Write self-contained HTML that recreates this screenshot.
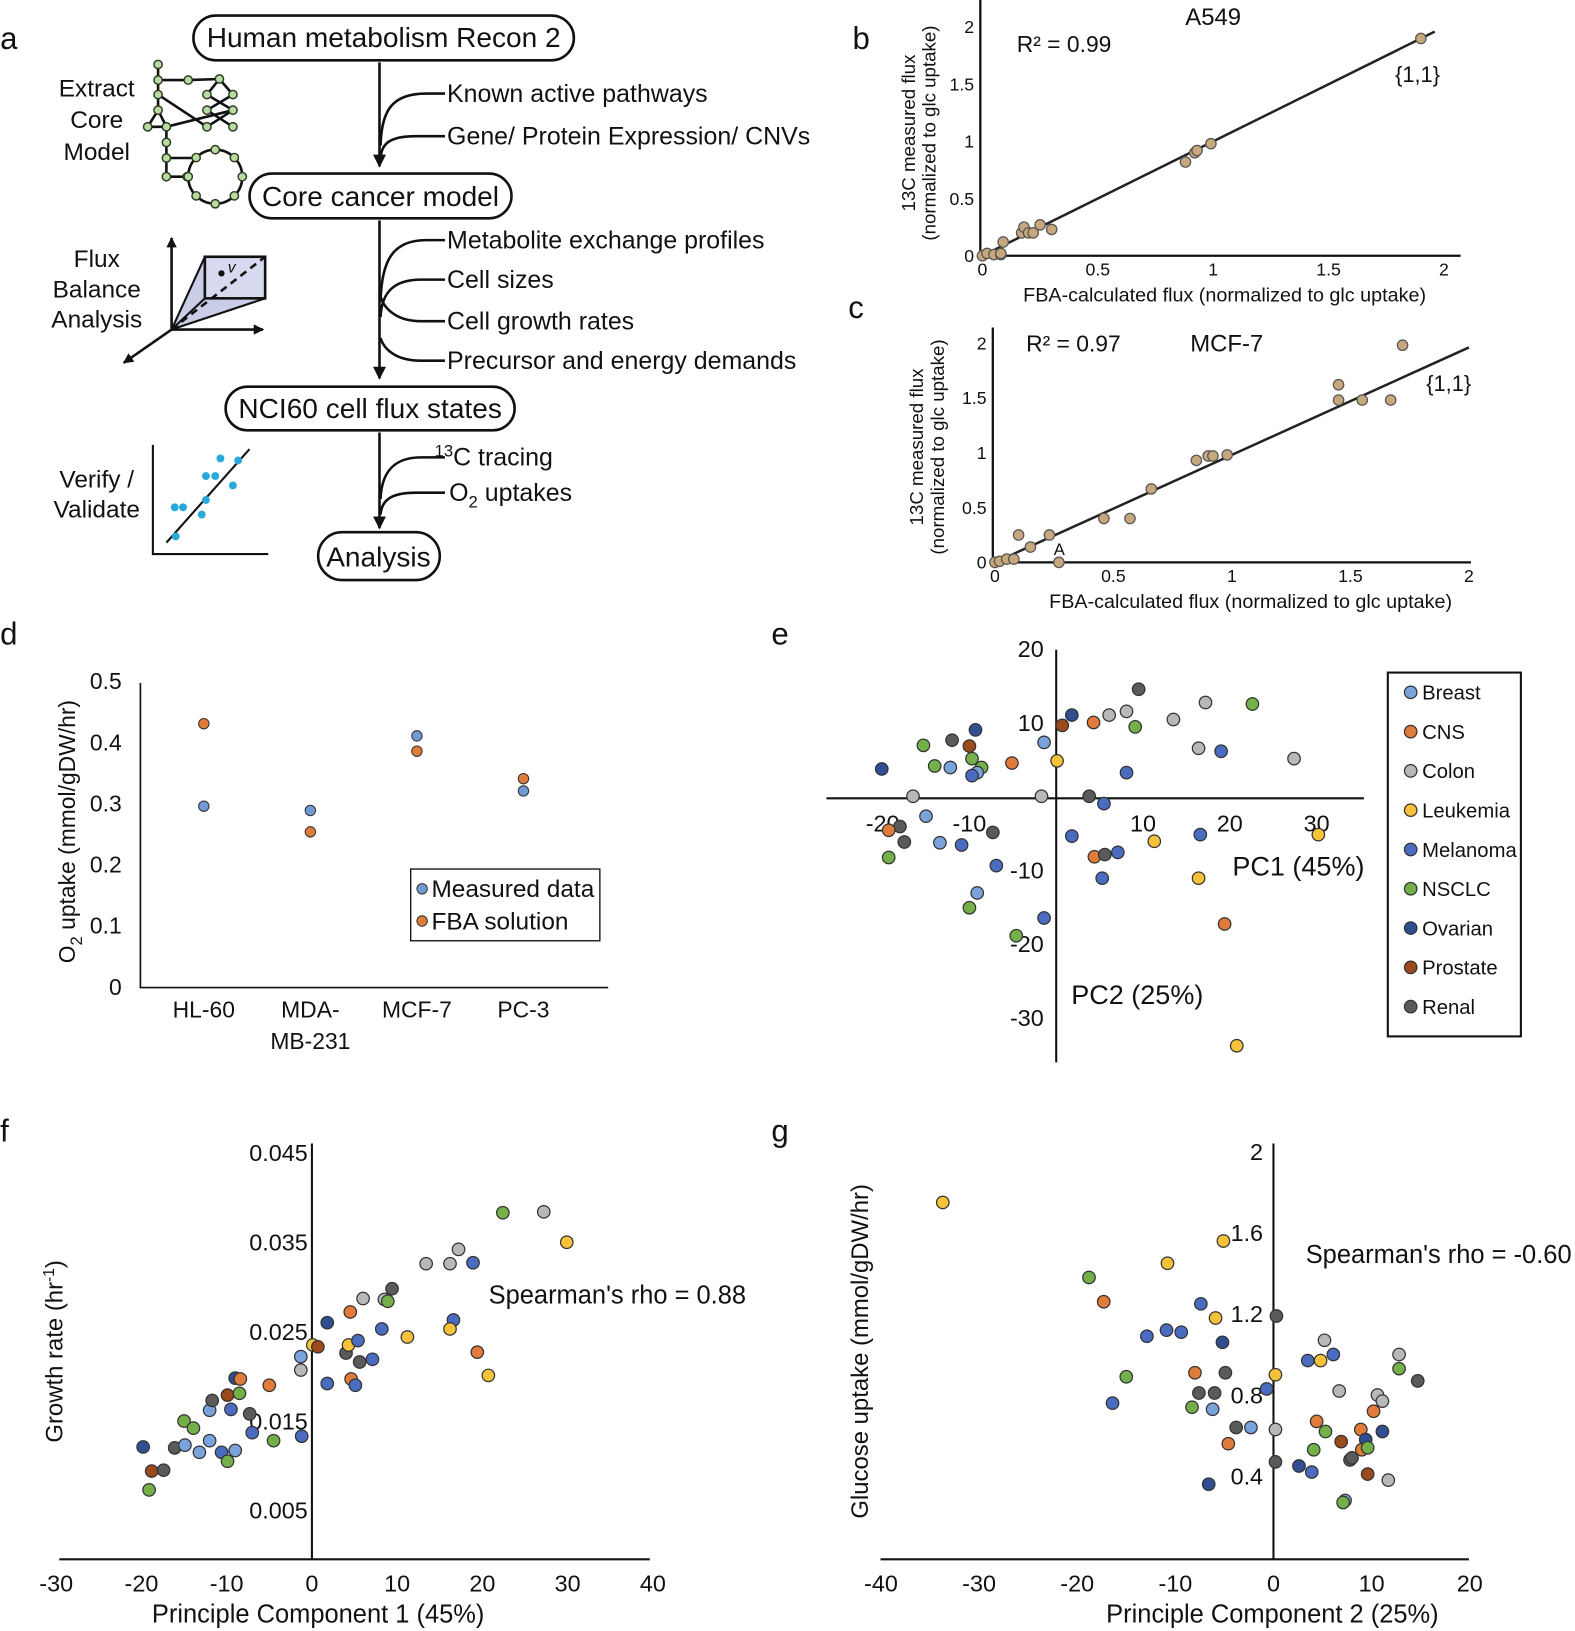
<!DOCTYPE html>
<html><head><meta charset="utf-8">
<style>
html,body{margin:0;padding:0;background:#fff;}
svg{display:block;font-family:"Liberation Sans",Arial,sans-serif;}
</style></head>
<body>
<svg id="fig" width="1575" height="1631" viewBox="0 0 1515 1569" xmlns="http://www.w3.org/2000/svg">
<defs>
<marker id="ah" viewBox="0 0 10 10" refX="9" refY="5" markerWidth="5" markerHeight="5" orient="auto"><path d="M0,0 L10,5 L0,10 z" fill="#111"/></marker>
<marker id="ah2" viewBox="0 0 10 10" refX="9" refY="5" markerWidth="4" markerHeight="4" orient="auto"><path d="M0,0 L10,5 L0,10 z" fill="#111"/></marker>
</defs>

<g font-size="30" fill="#111">
<text x="0" y="47">a</text>
<text x="820" y="47">b</text>
<text x="816" y="306">c</text>
<text x="0" y="620">d</text>
<text x="742" y="620">e</text>
<text x="0" y="1098">f</text>
<text x="742" y="1098">g</text>
</g>

<g id="panelA" fill="#111" stroke="none">
<rect x="186" y="15" width="366" height="43" rx="21.5" fill="#fff" stroke="#111" stroke-width="2.5"/>
<text x="369" y="45" font-size="27" text-anchor="middle">Human metabolism Recon 2</text>
<rect x="240" y="167" width="252" height="43" rx="21.5" fill="#fff" stroke="#111" stroke-width="2.5"/>
<text x="366" y="198" font-size="27" text-anchor="middle">Core cancer model</text>
<rect x="217" y="372" width="278" height="42" rx="21" fill="#fff" stroke="#111" stroke-width="2.5"/>
<text x="356" y="402" font-size="27" text-anchor="middle">NCI60 cell flux states</text>
<rect x="306" y="512" width="117" height="46" rx="23" fill="#fff" stroke="#111" stroke-width="2.5"/>
<text x="364" y="545" font-size="27" text-anchor="middle">Analysis</text>

<g stroke="#111" stroke-width="2.5" fill="none">
<line x1="365" y1="60" x2="365" y2="160" marker-end="url(#ah)"/>
<path d="M428,90 L410,90 C378,90 367,105 366,140"/>
<path d="M428,131 L400,131 C375,131 367,138 366,152"/>
<line x1="365" y1="212" x2="365" y2="364" marker-end="url(#ah)"/>
<path d="M428,231 L410,231 C378,231 367,250 366,290"/>
<path d="M428,269 L405,269 C378,269 367,282 366,305"/>
<path d="M428,309 L405,309 C375,309 367,290 366,285"/>
<path d="M428,347 L405,347 C375,347 367,330 366,325"/>
<line x1="365" y1="416" x2="365" y2="508" marker-end="url(#ah)"/>
<path d="M428,440 L405,440 C378,440 367,455 366,480"/>
<path d="M428,474 L400,474 C375,474 367,482 366,495"/>
</g>
<g font-size="24">
<text x="430" y="98">Known active pathways</text>
<text x="430" y="139">Gene/ Protein Expression/ CNVs</text>
<text x="430" y="239">Metabolite exchange profiles</text>
<text x="430" y="277">Cell sizes</text>
<text x="430" y="317">Cell growth rates</text>
<text x="430" y="355">Precursor and energy demands</text>
<text x="418" y="448"><tspan font-size="16" dy="-9">13</tspan><tspan dy="9">C tracing</tspan></text>
<text x="432" y="482">O<tspan font-size="16" dy="6">2</tspan><tspan dy="-6"> uptakes</tspan></text>
</g>
<g font-size="23.5" text-anchor="middle">
<text x="93" y="93">Extract</text>
<text x="93" y="123">Core</text>
<text x="93" y="154">Model</text>
<text x="93" y="257">Flux</text>
<text x="93" y="286">Balance</text>
<text x="93" y="315">Analysis</text>
<text x="93" y="469">Verify /</text>
<text x="93" y="498">Validate</text>
</g>
<g id="network"></g>
<g>
<polygon points="165,317 197,247 255,247 255,287" fill="#c9cde8" stroke="#111" stroke-width="2"/>
<rect x="197" y="247" width="58" height="40" fill="#d6d9ef" stroke="#111" stroke-width="2.5"/>
<line x1="165" y1="317" x2="197" y2="287" stroke="#111" stroke-width="2"/>
<line x1="165" y1="317" x2="255" y2="247" stroke="#111" stroke-width="2.5" stroke-dasharray="7,5"/>
<circle cx="213" cy="263" r="3" fill="#111"/>
<text x="219" y="262" font-size="15" font-style="italic">v</text>
<line x1="165" y1="317" x2="165" y2="229" stroke="#111" stroke-width="2.5" marker-end="url(#ah2)"/>
<line x1="165" y1="317" x2="253" y2="317" stroke="#111" stroke-width="2.5" marker-end="url(#ah2)"/>
<line x1="165" y1="317" x2="119" y2="349" stroke="#111" stroke-width="2.5" marker-end="url(#ah2)"/>
</g>
<g>
<polyline points="147,428 147,533 258,533" fill="none" stroke="#111" stroke-width="2"/>
<line x1="160" y1="522" x2="240" y2="432" stroke="#111" stroke-width="2"/>
<g fill="#29a9d9">
<circle cx="212" cy="441" r="3.8"/><circle cx="229" cy="443" r="3.8"/><circle cx="198" cy="458" r="3.8"/><circle cx="207" cy="458" r="3.8"/>
<circle cx="224" cy="467" r="3.8"/><circle cx="198" cy="481" r="3.8"/><circle cx="168" cy="488" r="3.8"/><circle cx="176" cy="488" r="3.8"/>
<circle cx="194" cy="495" r="3.8"/><circle cx="169" cy="516" r="3.8"/>
</g>
</g>
</g>

<g id="charts"></g>
</svg>

<script>
const NS = 'http://www.w3.org/2000/svg';
function mk(tag, attrs, parent) {
  const e = document.createElementNS(NS, tag);
  for (const k in attrs) e.setAttribute(k, attrs[k]);
  parent.appendChild(e);
  return e;
}
function txt(parent, x, y, s, size, anchor) {
  const t = mk('text', {x: x, y: y, 'font-size': size, 'text-anchor': anchor || 'start', fill: '#111'}, parent);
  t.textContent = s;
  return t;
}

const netNodes = [[152,62],[152,77],[181,77],[211,76],[152,91],[199,91],[224,91],[152,106],[199,106],[224,106],[142,122],[160,122],[199,122],[224,122],[160,137],[160,152],[160,170],[180,170]];
const netEdges = [[0,1],[1,4],[4,7],[7,10],[7,11],[10,11],[1,2],[2,3],[3,5],[3,6],[5,9],[6,8],[8,13],[9,12],[4,12],[11,9],[11,14],[14,15],[15,16],[16,17]];
const net = document.getElementById('network');
const ringC = [207,170], ringR = 26;
mk('circle', {cx: ringC[0], cy: ringC[1], r: ringR, fill: 'none', stroke: '#111', 'stroke-width': 2.5}, net);
mk('line', {x1: 160, y1: 152, x2: 190, y2: 152, stroke: '#111', 'stroke-width': 2.5}, net);
netEdges.forEach(([a, b]) => {
  const l = mk('line', {x1: netNodes[a][0], y1: netNodes[a][1], x2: netNodes[b][0], y2: netNodes[b][1], stroke: '#111', 'stroke-width': 2.5}, net);
  
  
});
const ringNodes = [];
for (let i = 0; i < 8; i++) { const a = -Math.PI / 2 + i * Math.PI / 4; ringNodes.push([ringC[0] + ringR * Math.cos(a), ringC[1] + ringR * Math.sin(a)]); }
netNodes.concat(ringNodes).forEach(p => {
  const c = mk('circle', {cx: p[0], cy: p[1], r: 4, fill: '#b9dba0', stroke: '#2b3a22', 'stroke-width': 1.4}, net);
  
  
});

const charts = document.getElementById('charts');

const bFBA = [0, 0.02, 0.05, 0.08, 0.09, 0.08, 0.17, 0.18, 0.20, 0.22, 0.25, 0.30, 0.88, 0.92, 0.93, 0.99, 1.90];
const bMeas = [0, 0.02, 0.01, 0.01, 0.12, 0.02, 0.20, 0.25, 0.20, 0.20, 0.27, 0.23, 0.82, 0.90, 0.92, 0.98, 1.90];
const bTicks = [0, 0.5, 1, 1.5, 2];
const bFit = [0, 1.96];
const cFBA = [0, 0.02, 0.05, 0.08, 0.10, 0.15, 0.23, 0.27, 0.46, 0.57, 0.66, 0.85, 0.90, 0.92, 0.98, 1.45, 1.45, 1.55, 1.67, 1.72];
const cMeas = [0, 0.01, 0.03, 0.03, 0.25, 0.14, 0.25, 0.00, 0.40, 0.40, 0.67, 0.93, 0.97, 0.97, 0.98, 1.62, 1.48, 1.48, 1.48, 1.98];
const cTicks = [0, 0.5, 1, 1.5, 2];
const cFit = [0, 2.0];

function scatterFlux(o) {
  const g = mk('g', {}, charts);
  
  
  const X = v => o.x0 + v * o.xs, Y = v => o.y0 - v * o.ys;
  const ax = mk('polyline', {points: `${X(0)-2},${o.top} ${X(0)-2},${o.y0} ${o.xEnd},${o.y0}`, fill: 'none', stroke: '#111', 'stroke-width': 2.2}, g);
  
  
  o.ticks.forEach(t => {
    const lx = txt(g, X(t), o.y0 + 19, String(t), 17, 'middle');
    
    
    const ly = txt(g, X(0) - 8, Y(t) + 6, String(t), 17, 'end');
    
    
  });
  const fl = mk('line', {x1: X(o.fit[0]), y1: Y(o.fit[0] * o.slope), x2: X(o.fit[1]), y2: Y(o.fit[1] * o.slope), stroke: '#222', 'stroke-width': 2.4}, g);
  
  
  o.xs_.forEach((v, i) => {
    const c = mk('circle', {cx: X(v), cy: Y(o.ys_[i]), r: 5, fill: '#c7a87c', stroke: '#555', 'stroke-width': 1.2}, g);
    
    
  });
  const xl = txt(g, o.xlx, o.y0 + 44, 'FBA-calculated flux (normalized to glc uptake)', 19, 'middle');
  
  
  const yl = mk('text', {transform: `translate(${o.ylx},${o.yly}) rotate(-90)`, 'font-size': 18, 'text-anchor': 'middle', fill: '#111'}, g);
  
  
  const t1 = mk('tspan', {x: 0, y: 0}, yl); t1.textContent = '13C measured flux';
  const t2 = mk('tspan', {x: 0, y: 20}, yl); t2.textContent = '(normalized to glc uptake)';
  return {g, X, Y};
}
const pb = scatterFlux({name: 'panel-b-a549-scatter', x0: 945, xs: 222, y0: 246, ys: 110, top: 0, xEnd: 1405, ticks: bTicks, fit: bFit, slope: 1.0, xs_: bFBA, ys_: bMeas, xlx: 1178, ylx: 880, yly: 128});
let t;
t = txt(pb.g, 1167, 24, 'A549', 23, 'middle');  
t = txt(pb.g, 978, 50, 'R² = 0.99', 22);  
t = txt(pb.g, 1342, 79, '{1,1}', 21);  

const pc = scatterFlux({name: 'panel-c-mcf7-scatter', x0: 957, xs: 228, y0: 541, ys: 105.5, top: 315, xEnd: 1415, ticks: cTicks, fit: cFit, slope: 0.98, xs_: cFBA, ys_: cMeas, xlx: 1203, ylx: 888, yly: 430});
t = txt(pc.g, 1180, 338, 'MCF-7', 23, 'middle');  
t = txt(pc.g, 987, 338, 'R² = 0.97', 22);  
t = txt(pc.g, 1372, 376, '{1,1}', 21);  
t = txt(pc.g, 1019, 534, 'A', 16, 'middle');  

const dCats = ['HL-60', 'MDA-|MB-231', 'MCF-7', 'PC-3'];
const dMeasured = [0.295, 0.288, 0.41, 0.32];
const dFBA = [0.43, 0.253, 0.385, 0.34];
const dTicks = [0, 0.1, 0.2, 0.3, 0.4, 0.5];
(function () {
  const g = mk('g', {}, charts);
  
  
  const X = i => 196 + i * 102.5, Y = v => 949 - v * 588;
  const ax = mk('polyline', {points: `135,657 135,950 585,950`, fill: 'none', stroke: '#111', 'stroke-width': 1.6}, g);
  
  
  dTicks.forEach(v => {
    const l = txt(g, 117, Y(v) + 8, String(v), 22, 'end');
    
    
  });
  dCats.forEach((c, i) => {
    c.split('|').forEach((part, j) => {
      const l = txt(g, X(i), 979 + j * 30, part, 22, 'middle');
      
      
    });
    const m = mk('circle', {cx: X(i), cy: Y(dMeasured[i]), r: 5, fill: '#6f9ad6', stroke: '#333', 'stroke-width': 1}, g);
    
    
    const f = mk('circle', {cx: X(i), cy: Y(dFBA[i]), r: 5, fill: '#e07b39', stroke: '#333', 'stroke-width': 1}, g);
    
    
  });
  const yl = mk('text', {transform: 'translate(72,800) rotate(-90)', 'font-size': 22, 'text-anchor': 'middle', fill: '#111'}, g);
  
  
  yl.innerHTML = 'O<tspan font-size="16" dy="7">2</tspan><tspan dy="-7"> uptake (mmol/gDW/hr)</tspan>';
  const lg = mk('g', {}, g);
  
  
  mk('rect', {x: 395, y: 836, width: 182, height: 69, fill: '#fff', stroke: '#111', 'stroke-width': 1.3}, lg);
  mk('circle', {cx: 406, cy: 855, r: 5, fill: '#6f9ad6', stroke: '#333'}, lg);
  mk('circle', {cx: 406, cy: 886, r: 5, fill: '#e07b39', stroke: '#333'}, lg);
  let e = txt(lg, 415, 863, 'Measured data', 23.5);  
  e = txt(lg, 415, 894, 'FBA solution', 23.5);  
})();

const tissueNames = ['Breast', 'CNS', 'Colon', 'Leukemia', 'Melanoma', 'NSCLC', 'Ovarian', 'Prostate', 'Renal'];
const tissueColors = ['#7aa3dc', '#e07b39', '#b8b8b8', '#f5c23a', '#4a6cc0', '#73b04a', '#2f4f92', '#9c4a1c', '#5a5a5a'];

const eCat = [6,5,5,0,8,6,7,5,5,0, 4,1,0,7,6,1,2,2,8,5, 2,2,5,2,4,2,4,3,2,8, 4,2,8,1,8,0,0,4,8,4, 0,5,5,4,5,4,1,8,4,4, 3,4,3,1,3,3];
const ePC1 = [-20.1,-15.3,-14,-12.2,-12,-9.3,-10,-9.7,-8.6,-9.1, -9.7,-5.1,-1.4,0.7,1.8,4.3,6.1,8.1,9.5,9.1, 13.5,17.2,22.6,16.4,19,27.4,8.1,0.1,-1.7,3.8, 5.5,-16.5,-18,-19.3,-17.5,-15,-13.4,-10.9,-7.3,-6.9, -9.1,-10,-4.6,-1.4,-19.3,1.8,4.4,5.6,7.1,5.3, 11.3,16.6,16.4,19.4,30.2,20.8];
const ePC2 = [3.7,6.9,4.1,3.9,7.6,9,6.8,5.1,3.9,3.2, 2.8,4.5,7.3,9.6,11,10,11,11.5,14.5,9.4, 10.4,12.7,12.5,6.5,6.1,5.1,3.2,4.8,0,0, -1,0,-4.1,-4.6,-6.2,-2.7,-6.3,-6.6,-4.9,-9.4, -13.1,-15.1,-18.9,-16.5,-8.3,-5.4,-8.2,-7.9,-7.6,-11.1, -6.1,-5.2,-11.1,-17.3,-5.2,-33.8];
const eXTicks = [-20, -10, 10, 20, 30];
const eYTicks = [20, 10, -10, -20, -30];

(function () {
  const g = mk('g', {}, charts);
  
  
  const X = v => 1016 + v * 8.35, Y = v => 766 - v * 7.1;
  let a = mk('line', {x1: 795, y1: 768, x2: 1312, y2: 768, stroke: '#111', 'stroke-width': 2}, g);
   
  a = mk('line', {x1: 1016, y1: 625, x2: 1016, y2: 1022, stroke: '#111', 'stroke-width': 2}, g);
   
  eXTicks.forEach(v => { const l = txt(g, X(v), 800, String(v), 22.5, 'middle');   });
  eYTicks.forEach(v => { const l = txt(g, 1004, Y(v) + 8, String(v), 22.5, 'end');   });
  ePC1.forEach((v, i) => {
    const c = mk('circle', {cx: X(v), cy: Y(ePC2[i]), r: 6, fill: tissueColors[eCat[i]], stroke: '#333', 'stroke-width': 1.2}, g);
    
    
  });
  let l = txt(g, 1249, 842, 'PC1 (45%)', 26, 'middle');  
  l = txt(g, 1094, 966, 'PC2 (25%)', 26, 'middle');  
  const lg = mk('g', {}, g);
  
  
  mk('rect', {x: 1335, y: 647, width: 128, height: 350, fill: '#fff', stroke: '#111', 'stroke-width': 2}, lg);
  tissueNames.forEach((n, i) => {
    const y = 666 + i * 37.8;
    mk('circle', {cx: 1357, cy: y, r: 6, fill: tissueColors[i], stroke: '#333', 'stroke-width': 1.2}, lg);
    const e = txt(lg, 1368, y + 7, n, 19.5);
    
    
  });
})();

const fCat = [6,5,7,8,8,5,5,0,0,0, 0,8,4,5,0,7,4,6,5,1, 4,8,5,1,4,0,2,3,7,6, 4,8,3,1,1,4,4,8,2,4, 4,2,5,8,3,2,2,4,3,2, 4,1,3,5,2,3];
const fPC1 = [-19.8,-19.1,-18.8,-17.4,-16.1,-15,-13.9,-14.9,-13.2,-12, -12,-11.7,-10.6,-9.9,-9,-9.9,-9.5,-9,-8.5,-8.4, -7,-7.3,-4.5,-5,-1.2,-1.3,-1.3,0.1,0.7,1.8, 1.8,4,4.3,4.5,4.6,5.1,5.4,5.6,6,7.1, 8.2,8.5,8.9,9.4,11.2,13.4,16.2,16.6,16.2,17.2, 18.9,19.4,20.7,22.4,27.2,29.9];
const fGrowth = [0.0121,0.0073,0.0094,0.0095,0.012,0.015,0.0142,0.0123,0.0115,0.0128, 0.0162,0.0173,0.0115,0.0105,0.0117,0.0179,0.0163,0.0198,0.0181,0.0197, 0.0137,0.0158,0.0128,0.019,0.0133,0.0222,0.0207,0.0235,0.0233,0.026, 0.0192,0.0226,0.0235,0.0272,0.0197,0.019,0.024,0.0216,0.0287,0.0219, 0.0253,0.0286,0.0284,0.0298,0.0244,0.0326,0.0326,0.0263,0.0253,0.0342, 0.0327,0.0227,0.0201,0.0383,0.0384,0.035];
const fXTicks = [-30, -20, -10, 0, 10, 20, 30, 40];
const fYTicks = [0.005, 0.015, 0.025, 0.035, 0.045];

const gCat = [3,5,1,4,5,4,4,4,3,1, 5,4,6,0,8,8,3,3,6,8, 1,8,0,4,8,3,2,8,6,4, 4,5,1,3,2,5,4,2,7,0, 5,8,1,6,1,5,7,1,2,2, 6,2,2,5,8,8];
const gPC2 = [-33.7,-18.8,-17.3,-16.4,-15,-12.9,-10.9,-9.4,-10.8,-8, -8.3,-7.4,-6.6,-6.2,-7.6,-6,-5.9,-5.1,-5.2,-4.9, -4.6,-3.8,-2.3,-0.7,0.3,0.2,0.2,0.2,2.6,3.5, 3.9,4.1,4.4,4.8,5.2,5.3,6.1,6.7,6.9,7.3, 7.1,7.8,8.9,9.4,9,9.6,9.6,10.2,10.6,11.1, 11.1,11.7,12.8,12.8,14.7,8.0];
const gGlucose = [1.75,1.38,1.26,0.76,0.89,1.09,1.12,1.11,1.45,0.91, 0.74,1.25,0.36,0.73,0.81,0.81,1.18,1.56,1.06,0.91, 0.56,0.64,0.64,0.83,1.19,0.9,0.63,0.47,0.45,0.97, 0.42,0.53,0.67,0.97,1.07,0.62,1.0,0.82,0.57,0.28, 0.27,0.48,0.63,0.58,0.53,0.54,0.41,0.72,0.8,0.77, 0.62,0.38,1.0,0.93,0.87,0.49];
const gXTicks = [-40, -30, -20, -10, 0, 10, 20];
const gYTicks = [0.4, 0.8, 1.2, 1.6, 2];

function pcScatter(o) {
  const g = mk('g', {}, charts);
  
  
  const X = v => o.x0 + v * o.xs, Y = v => o.y0 - v * o.ys;
  let a = mk('line', {x1: o.xl, y1: o.ax, x2: o.xr, y2: o.ax, stroke: '#111', 'stroke-width': 2}, g);
   
  a = mk('line', {x1: X(0), y1: 1100, x2: X(0), y2: o.ax, stroke: '#111', 'stroke-width': 2}, g);
   
  o.xt.forEach(v => { const l = txt(g, X(v), 1531, String(v), 22.5, 'middle');   });
  o.yt.forEach(v => { const l = txt(g, o.ytx, Y(v) + 8, String(v), 22.5, 'end');   });
  o.xv.forEach((v, i) => {
    const c = mk('circle', {cx: X(v), cy: Y(o.yv[i]), r: 6, fill: tissueColors[o.cat[i]], stroke: '#333', 'stroke-width': 1.2}, g);
    
    
  });
  let l = txt(g, o.xtitleX, 1561, o.xtitle, 24.5, 'middle');  
  l = txt(g, o.rhoX, o.rhoY, o.rho, 24.5);  
  return g;
}
const gf = pcScatter({name: 'panel-f-growth-vs-pc1', x0: 300, xs: 8.2, y0: 1496, ys: 8600, xl: 57, xr: 625, ax: 1500, xt: fXTicks, yt: fYTicks, ytx: 296, xv: fPC1, yv: fGrowth, cat: fCat, xtitleX: 306, xtitle: 'Principle Component 1 (45%)', rhoX: 470, rhoY: 1254, rho: "Spearman's rho = 0.88"});
let yl = mk('text', {transform: 'translate(60,1300) rotate(-90)', 'font-size': 23, 'text-anchor': 'middle', fill: '#111'}, gf);


yl.innerHTML = 'Growth rate (hr<tspan font-size="15" dy="-8">-1</tspan><tspan dy="8">)</tspan>';
const gg = pcScatter({name: 'panel-g-glucose-vs-pc2', x0: 1225, xs: 9.44, y0: 1498, ys: 195, xl: 847, xr: 1413, ax: 1500, xt: gXTicks, yt: gYTicks, ytx: 1215, xv: gPC2, yv: gGlucose, cat: gCat, xtitleX: 1224, xtitle: 'Principle Component 2 (25%)', rhoX: 1256, rhoY: 1215, rho: "Spearman's rho = -0.60"});
yl = mk('text', {transform: 'translate(835,1300) rotate(-90)', 'font-size': 23, 'text-anchor': 'middle', fill: '#111'}, gg);


yl.textContent = 'Glucose uptake (mmol/gDW/hr)';
</script>
</body></html>
